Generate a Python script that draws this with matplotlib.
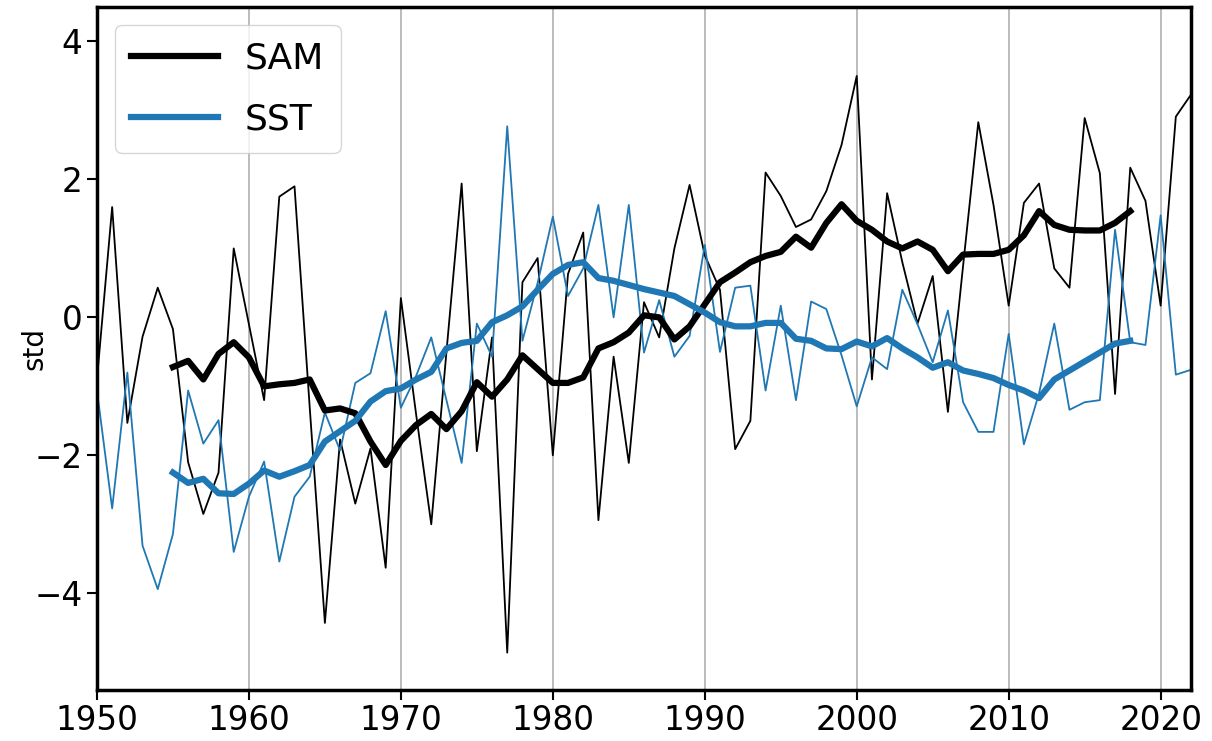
import numpy as np
import matplotlib
matplotlib.use("Agg")
import matplotlib.pyplot as plt

# jaren voor de jaarlijkse reeksen
years = list(range(1950, 2023))

sam_annual = [-0.9, 1.6, -1.53, -0.28, 0.43, -0.17, -2.1, -2.85, -2.25, 1.0,
              -0.1, -1.2, 1.75, 1.9, -1.3, -4.43, -1.77, -2.7, -1.9, -3.63,
              0.28, -1.4, -3.0, -0.5, 1.94, -1.94, -0.29, -4.86, 0.51, 0.86,
              -2.0, 0.63, 1.23, -2.94, -0.57, -2.11, 0.22, -0.29, 1.0, 1.92,
              0.9, 0.4, -1.91, -1.5, 2.1, 1.76, 1.31, 1.42, 1.83, 2.5,
              3.5, -0.9, 1.8, 0.8, -0.09, 0.6, -1.37, 0.75, 2.83, 1.63,
              0.17, 1.66, 1.94, 0.71, 0.43, 2.89, 2.09, -1.11, 2.17, 1.69,
              0.17, 2.91, 3.23]

sst_annual = [-1.06, -2.77, -0.8, -3.31, -3.94, -3.14, -1.06, -1.83, -1.49, -3.4,
              -2.6, -2.09, -3.54, -2.6, -2.31, -1.38, -1.93, -0.95, -0.81, 0.09,
              -1.31, -0.85, -0.29, -1.2, -2.11, -0.09, -0.57, 2.77, -0.34, 0.5,
              1.46, 0.31, 0.71, 1.63, 0.0, 1.63, -0.51, 0.25, -0.57, -0.27,
              1.05, -0.5, 0.43, 0.46, -1.06, 0.17, -1.2, 0.23, 0.12, -0.55,
              -1.29, -0.58, -0.75, 0.4, -0.1, -0.65, 0.1, -1.23, -1.66, -1.66,
              -0.24, -1.84, -1.1, -0.09, -1.34, -1.23, -1.2, 1.27, -0.36, -0.4,
              1.48, -0.83, -0.76]

years_smooth = list(range(1955, 2019))

sam_smooth = [-0.72, -0.63, -0.9, -0.53, -0.36, -0.58, -1.0, -0.97, -0.95, -0.9,
              -1.35, -1.32, -1.39, -1.8, -2.14, -1.79, -1.56, -1.4, -1.62, -1.36,
              -0.94, -1.15, -0.9, -0.55, -0.75, -0.95, -0.95, -0.87, -0.45, -0.36,
              -0.22, 0.03, 0.0, -0.32, -0.13, 0.19, 0.51, 0.65, 0.8, 0.89,
              0.95, 1.17, 1.01, 1.37, 1.64, 1.4, 1.27, 1.1, 1.0, 1.1,
              0.98, 0.67, 0.91, 0.92, 0.92, 0.98, 1.19, 1.54, 1.34, 1.27,
              1.26, 1.26, 1.37, 1.54]

sst_smooth = [-2.25, -2.4, -2.34, -2.55, -2.56, -2.41, -2.22, -2.31, -2.23, -2.14,
              -1.8, -1.65, -1.5, -1.22, -1.07, -1.03, -0.9, -0.79, -0.45, -0.37,
              -0.34, -0.07, 0.03, 0.16, 0.4, 0.63, 0.76, 0.8, 0.57, 0.53,
              0.47, 0.41, 0.36, 0.31, 0.19, 0.07, -0.07, -0.13, -0.13, -0.08,
              -0.08, -0.31, -0.34, -0.45, -0.46, -0.35, -0.42, -0.3, -0.45, -0.58,
              -0.73, -0.65, -0.77, -0.82, -0.88, -0.98, -1.06, -1.17, -0.9, -0.77,
              -0.64, -0.51, -0.38, -0.34]

xticks = [1950, 1960, 1970, 1980, 1990, 2000, 2010, 2020]
yticks = [-4, -2, 0, 2, 4]

blue = '#1f77b4'

fig = plt.figure(figsize=(12.12, 7.41), dpi=100)
ax = fig.add_axes([0.080, 0.069, 0.9027, 0.9216])

ax.plot(years, sam_annual, color='black', linewidth=1.3)
ax.plot(years, sst_annual, color=blue, linewidth=1.3)
ax.plot(years_smooth, sam_smooth, color='black', linewidth=4.5, label='SAM')
ax.plot(years_smooth, sst_smooth, color=blue, linewidth=4.5, label='SST')

ax.set_xlim(1950, 2022)
ax.set_ylim(-5.4, 4.5)
ax.set_xticks(xticks)
ax.set_yticks(yticks)
ax.set_ylabel('std', fontsize=20, labelpad=-10)
ax.tick_params(labelsize=23.5, length=7, width=1.5)
ax.grid(axis='x', color='#b0b0b0', linewidth=1.2)
ax.set_axisbelow(True)
for s in ax.spines.values():
    s.set_linewidth(2.5)

ax.legend(loc='upper left', fontsize=26, handlelength=2.4, borderpad=0.45,
          labelspacing=0.75, handletextpad=0.75)

plt.savefig('out.png', dpi=100)
plt.close()
